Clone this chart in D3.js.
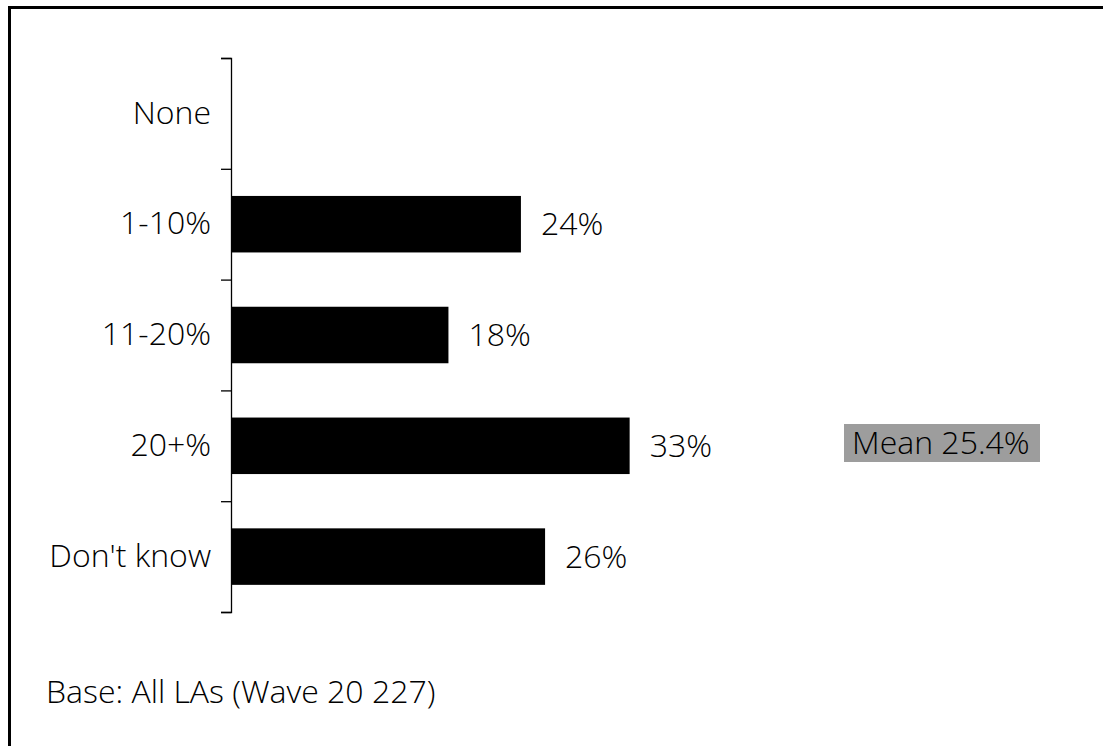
<!DOCTYPE html>
<meta charset="utf-8">
<head>
    <script src="https://d3js.org/d3.v7.min.js"></script>
</head>
<style>
    body { margin: 0; background: white; }
    text { font-family: 'Open Sans', 'Noto Sans', sans-serif; font-weight: 300; fill: #000; }
</style>
<div id="my_dataviz"></div>
<script>

    // data
    var categories = ["None", "1-10%", "11-20%", "20+%", "Don't know"];
    var values = [null, 24, 18, 33, 26];
    var meanLabel = "Mean 25.4%";
    var baseNote = "Base: All LAs (Wave 20 227)";

    var W = 1103, H = 746;
    var fontSize = "32px";

    var svg = d3.select("#my_dataviz")
        .append("svg")
        .attr("width", W)
        .attr("height", H);

    // outer frame (right and bottom edges fall off the picture)
    svg.append("rect")
        .attr("x", 9.5)
        .attr("y", 7.5)
        .attr("width", W + 20)
        .attr("height", H + 20)
        .attr("fill", "none")
        .attr("stroke", "black")
        .attr("stroke-width", 3);

    var plotTop = 58, plotBottom = 612, plotLeft = 231;

    // Y: one band per category
    var y = d3.scaleBand()
        .domain(categories)
        .range([plotTop, plotBottom])
        .paddingInner(0.49)
        .paddingOuter(0.245);

    // X: percent
    var x = d3.scaleLinear()
        .domain([0, 50])
        .range([plotLeft, plotLeft + 604]);

    // ticks sit on the band boundaries
    var yEdge = d3.scaleLinear()
        .domain([0, categories.length])
        .range([plotTop, plotBottom]);

    svg.append("g")
        .attr("transform", "translate(" + plotLeft + ",0)")
        .call(d3.axisLeft(yEdge).ticks(categories.length).tickSize(10).tickFormat(""))
        .call(function (g) {
            g.selectAll("path, line").attr("stroke", "black").attr("stroke-width", 1.3);
        });

    // category labels
    svg.append("g")
        .attr("transform", "translate(" + plotLeft + ",0)")
        .call(d3.axisLeft(y).tickSize(0).tickPadding(20))
        .call(function (g) {
            g.select(".domain").remove();
            g.selectAll("text")
                .style("font-family", "'Open Sans', 'Noto Sans', sans-serif")
                .style("font-weight", 300)
                .style("font-size", fontSize)
                .attr("fill", "#000");
        });

    var rows = categories.map(function (c, i) { return {cat: c, v: values[i]}; })
        .filter(function (d) { return d.v != null; });

    // bars
    svg.append("g")
        .selectAll("rect")
        .data(rows)
        .enter()
        .append("rect")
        .attr("x", x(0))
        .attr("y", function (d) { return y(d.cat); })
        .attr("width", function (d) { return x(d.v) - x(0); })
        .attr("height", y.bandwidth())
        .attr("fill", "black");

    // value labels
    svg.append("g")
        .selectAll("text")
        .data(rows)
        .enter()
        .append("text")
        .attr("x", function (d) { return x(d.v) + 20; })
        .attr("y", function (d) { return y(d.cat) + y.bandwidth() / 2; })
        .attr("dy", "0.35em")
        .style("font-size", fontSize)
        .text(function (d) { return d.v + "%"; });

    // mean box
    svg.append("rect")
        .attr("x", 844)
        .attr("y", 424)
        .attr("width", 196)
        .attr("height", 38)
        .attr("fill", "#9d9d9d");
    svg.append("text")
        .attr("x", 852)
        .attr("y", 443)
        .attr("dy", "0.35em")
        .style("font-size", fontSize)
        .text(meanLabel);

    // base note
    svg.append("text")
        .attr("x", 46)
        .attr("y", 692)
        .attr("dy", "0.35em")
        .style("font-size", fontSize)
        .text(baseNote);

</script>
